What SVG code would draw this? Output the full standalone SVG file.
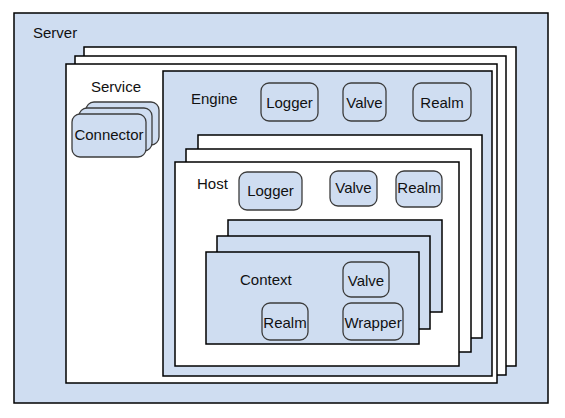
<svg xmlns="http://www.w3.org/2000/svg" width="565" height="418" viewBox="0 0 565 418">
<style>
.box{stroke:#000;stroke-width:1.5}
.blue{fill:#CFDDF1}
.white{fill:#FFFFFF}
.node{fill:#CFDDF1;stroke:#3C3C3C;stroke-width:1.3}
text{font-family:"Liberation Sans",Arial,sans-serif;font-size:15px;fill:#111}
.c{text-anchor:middle}
</style>
<rect width="565" height="418" fill="#fff"/>
<g id="server">
<rect class="box blue" x="14" y="13" width="534" height="390"/>
<text x="33" y="38">Server</text>
</g>
<g id="service">
<rect class="box white" x="84" y="47" width="432" height="319"/>
<rect class="box white" x="75" y="56" width="431" height="319"/>
<rect class="box white" x="66" y="64" width="431" height="319"/>
<text x="91" y="92">Service</text>
</g>
<g id="connector">
<rect class="node" x="86" y="102" width="73" height="43" rx="8"/>
<rect class="node" x="79" y="108" width="73" height="43" rx="8"/>
<rect class="node" x="72" y="114" width="74" height="43" rx="8"/>
<text class="c" x="109" y="140">Connector</text>
</g>
<g id="engine">
<rect class="box blue" x="163" y="71" width="329" height="305"/>
<text x="191" y="104">Engine</text>
</g>
<g id="engine-logger">
<rect class="node" x="261" y="83" width="57" height="38" rx="8"/>
<text class="c" x="289.5" y="108">Logger</text>
</g>
<g id="engine-valve">
<rect class="node" x="343" y="83" width="43" height="38" rx="8"/>
<text class="c" x="364.5" y="108">Valve</text>
</g>
<g id="engine-realm">
<rect class="node" x="413" y="83" width="58" height="38" rx="8"/>
<text class="c" x="442" y="108">Realm</text>
</g>
<g id="host">
<rect class="box white" x="198" y="135" width="284" height="203"/>
<rect class="box white" x="186" y="149" width="285" height="203"/>
<rect class="box white" x="175" y="162" width="284" height="204"/>
<text x="197" y="189">Host</text>
</g>
<g id="host-logger">
<rect class="node" x="239" y="172" width="63" height="38" rx="8"/>
<text class="c" x="270.5" y="196">Logger</text>
</g>
<g id="host-valve">
<rect class="node" x="330" y="171" width="47" height="35" rx="8"/>
<text class="c" x="353.5" y="193">Valve</text>
</g>
<g id="host-realm">
<rect class="node" x="396" y="171" width="46" height="36" rx="8"/>
<text class="c" x="419" y="193">Realm</text>
</g>
<g id="context">
<rect class="box blue" x="228" y="220" width="214" height="92"/>
<rect class="box blue" x="217" y="236" width="213" height="93"/>
<rect class="box blue" x="206" y="252" width="213" height="92"/>
<text x="240" y="285">Context</text>
</g>
<g id="context-valve">
<rect class="node" x="343" y="262" width="46" height="35" rx="8"/>
<text class="c" x="366" y="286">Valve</text>
</g>
<g id="context-realm">
<rect class="node" x="262" y="303" width="46" height="37" rx="8"/>
<text class="c" x="285" y="328">Realm</text>
</g>
<g id="wrapper">
<rect class="node" x="343" y="303" width="60" height="37" rx="8"/>
<text class="c" x="373" y="328">Wrapper</text>
</g>
<g id="connectors"/>
</svg>
